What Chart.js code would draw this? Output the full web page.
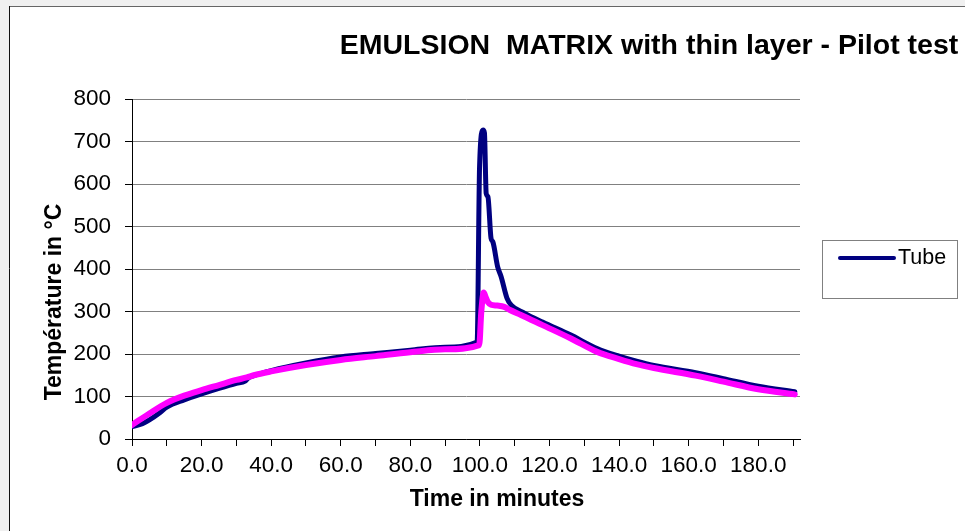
<!DOCTYPE html>
<html>
<head>
<meta charset="utf-8">
<script src="https://cdn.jsdelivr.net/npm/chart.js@4"></script>
<style>
  html, body { margin: 0; padding: 0; background: #f0f0f0; }
  #wrap { position: absolute; left: 0; top: 0; width: 965px; height: 531px; }
</style>
</head>
<body>
<div id="wrap"><canvas id="c" width="965" height="531"></canvas></div>
<script>
const chartTitle = 'EMULSION  MATRIX with thin layer - Pilot test';
const xTitle = 'Time in minutes';
const yTitle = 'Température in °C';

const tubeLabel = 'Tube';
const tubeTime = [0, 3, 5, 8, 10, 15, 20, 25, 30, 32.5, 33.5, 35, 40, 50, 60, 70, 80, 90, 99.2, 99.9, 100.9, 101.3, 101.8, 102.3, 103.2, 103.7, 105.1, 106.1, 107.8, 109, 112.8, 118, 126, 133.7, 140, 145, 150, 162, 170, 180, 190.5];
const tubeTemp = [29, 36, 45, 62, 75, 92, 106, 119, 131, 136, 144, 149, 161, 179, 193, 201, 209, 216, 228, 641, 727, 720, 578, 570, 472, 464, 405, 382, 331, 315, 296, 275, 245, 213, 195, 183, 173, 156, 142, 124, 111];

const surfLabel = 'Surface';
const surfTime = [0, 5, 10, 15, 20, 25, 30, 33, 35, 40, 50, 60, 70, 80, 90, 99.8, 100.4, 101.1, 101.6, 102.3, 103.2, 105, 107, 108.5, 111.8, 118, 126, 133.7, 140, 145, 150, 162, 170, 180, 190.5];
const surfTemp = [33, 60, 85, 102, 115, 127, 139, 145, 150, 159, 174, 186, 195, 204, 211, 221, 300, 345, 335, 322, 316, 314, 311, 304, 292, 268, 237, 205, 188, 176, 167, 149, 135, 117, 105];

const FONT = "'Liberation Sans', Arial, sans-serif";

const frame = {
  id: 'frame',
  beforeDraw(chart) {
    const ctx = chart.ctx;
    ctx.save();
    ctx.fillStyle = '#f0f0f0';
    ctx.fillRect(0, 0, 965, 531);
    ctx.fillStyle = '#ffffff';
    ctx.fillRect(9, 6, 956, 525);
    ctx.strokeStyle = '#666666';
    ctx.lineWidth = 1;
    ctx.beginPath(); ctx.moveTo(9, 6.5); ctx.lineTo(965, 6.5); ctx.stroke();
    ctx.strokeStyle = '#111111';
    ctx.beginPath(); ctx.moveTo(9.5, 6); ctx.lineTo(9.5, 531); ctx.stroke();
    ctx.restore();
  },
  afterDraw(chart) {
    const ctx = chart.ctx;
    ctx.save();
    ctx.fillStyle = '#000';
    ctx.font = 'bold 28.5px ' + FONT;
    ctx.textAlign = 'center';
    ctx.textBaseline = 'middle';
    ctx.fillText(chartTitle, 649, 46);
    ctx.font = 'bold 23px ' + FONT;
    ctx.fillText(xTitle, 497, 500);
    ctx.save();
    ctx.translate(55, 302);
    ctx.rotate(-Math.PI / 2);
    ctx.fillText(yTitle, 0, 0);
    ctx.restore();
    ctx.strokeStyle = '#808080';
    ctx.lineWidth = 1;
    ctx.strokeRect(822.5, 240.5, 135, 58);
    const ds = chart.data.datasets[0];
    ctx.strokeStyle = ds.borderColor;
    ctx.lineWidth = 4;
    ctx.lineCap = 'round';
    ctx.beginPath(); ctx.moveTo(840, 258); ctx.lineTo(894, 258); ctx.stroke();
    ctx.font = '21.5px ' + FONT;
    ctx.textAlign = 'left';
    ctx.fillText(ds.label, 898, 258);
    ctx.restore();
  }
};

new Chart(document.getElementById('c'), {
  type: 'line',
  data: {
    datasets: [
      {
        label: tubeLabel,
        data: tubeTime.map((t, i) => ({ x: t, y: tubeTemp[i] })),
        borderColor: '#000080',
        borderWidth: 5,
        pointRadius: 0,
        cubicInterpolationMode: 'monotone',
        borderJoinStyle: 'round',
        borderCapStyle: 'round',
        order: 2
      },
      {
        label: surfLabel,
        data: surfTime.map((t, i) => ({ x: t, y: surfTemp[i] })),
        borderColor: '#ff00ff',
        borderWidth: 6,
        pointRadius: 0,
        cubicInterpolationMode: 'monotone',
        borderJoinStyle: 'round',
        borderCapStyle: 'round',
        order: 1
      }
    ]
  },
  options: {
    responsive: false,
    animation: false,
    layout: { padding: { left: 0, top: 99, right: 165, bottom: 0 } },
    plugins: { legend: { display: false }, title: { display: false }, tooltip: { enabled: false } },
    scales: {
      x: {
        type: 'linear',
        min: 0,
        max: 192,
        afterFit: (s) => { s.height = 92; },
        border: { color: '#000', width: 1 },
        grid: { drawOnChartArea: false, drawTicks: true, tickLength: 7, color: '#000' },
        ticks: {
          stepSize: 10,
          includeBounds: false,
          autoSkip: false,
          maxRotation: 0,
          padding: 6,
          color: '#000',
          font: { family: FONT, size: 22.5 },
          callback: (v) => (v % 20 === 0 ? Number(v).toFixed(1) : '')
        }
      },
      y: {
        min: 0,
        max: 800,
        afterFit: (s) => { s.width = 132; },
        border: { color: '#000', width: 1 },
        grid: { color: '#808080', tickColor: '#000', tickLength: 7, lineWidth: 1 },
        ticks: {
          stepSize: 100,
          padding: 14,
          color: '#000',
          font: { family: FONT, size: 22.5 },
          callback: (v) => String(v)
        }
      }
    }
  },
  plugins: [frame]
});
</script>
</body>
</html>
